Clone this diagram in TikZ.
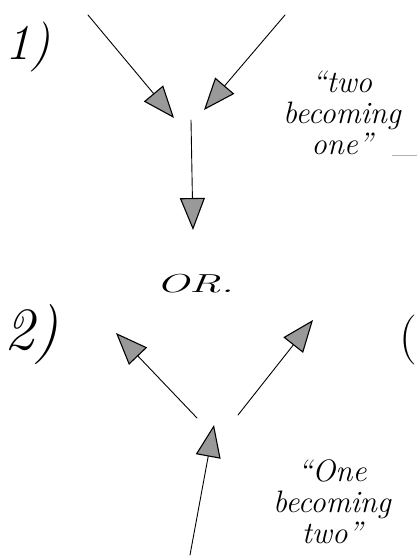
\documentclass[tikz,border=0pt]{standalone}
\usepackage{graphicx}
\usetikzlibrary{arrows.meta}
\begin{document}
\begin{tikzpicture}[x=1pt,y=-1pt,
  stroke/.style={line width=0.9pt, line cap=round},
  arr/.style={stroke, -{Triangle[length=32pt,width=25pt,fill=black!40,line width=1.1pt]}},
  hand/.style={font=\itshape\fontsize{31}{31}\selectfont, align=center, inner sep=0pt},
  num/.style={font=\itshape\fontsize{50}{50}\selectfont, inner sep=0pt}]
\useasboundingbox (0,0) rectangle (417,560);
% part 1
\node[num] (n1) at (28,47) {1)};
\coordinate (a1s) at (88,15);
\coordinate (a1t) at (174,118);
\coordinate (b1s) at (285,15);
\coordinate (b1t) at (204,110);
\coordinate (c1s) at (191,120);
\coordinate (c1t) at (193,230);
\draw[arr] (a1s) -- (a1t);
\draw[arr] (b1s) -- (b1t);
\draw[arr] (c1s) -- (c1t);
\node[hand] (t1) at (342,113) {``two\\becoming\\one''};
\coordinate (g1) at (392,155);
\coordinate (g2) at (417,155);
\draw[black!30, line width=1pt] (g1) -- (g2);
% or
\node[font=\itshape\fontsize{26}{26}\selectfont, inner sep=0pt] (or) at (195,284) {\scalebox{1.7}[1]{OR.}};
% part 2
\node[font=\itshape\fontsize{60}{60}\selectfont, inner sep=0pt] (n2) at (32,335) {2)};
\node[font=\fontsize{50}{50}\selectfont, inner sep=0pt] (par) at (408,340) {(};
\coordinate (d2s) at (190,555);
\coordinate (d2t) at (214,425);
\coordinate (e2s) at (197,418);
\coordinate (e2t) at (116,333);
\coordinate (f2s) at (238,415);
\coordinate (f2t) at (313,320);
\draw[arr] (d2s) -- (d2t);
\draw[arr] (e2s) -- (e2t);
\draw[arr] (f2s) -- (f2t);
\node[hand] (t2) at (332,502) {``One\\becoming\\two''};
\end{tikzpicture}
\end{document}
